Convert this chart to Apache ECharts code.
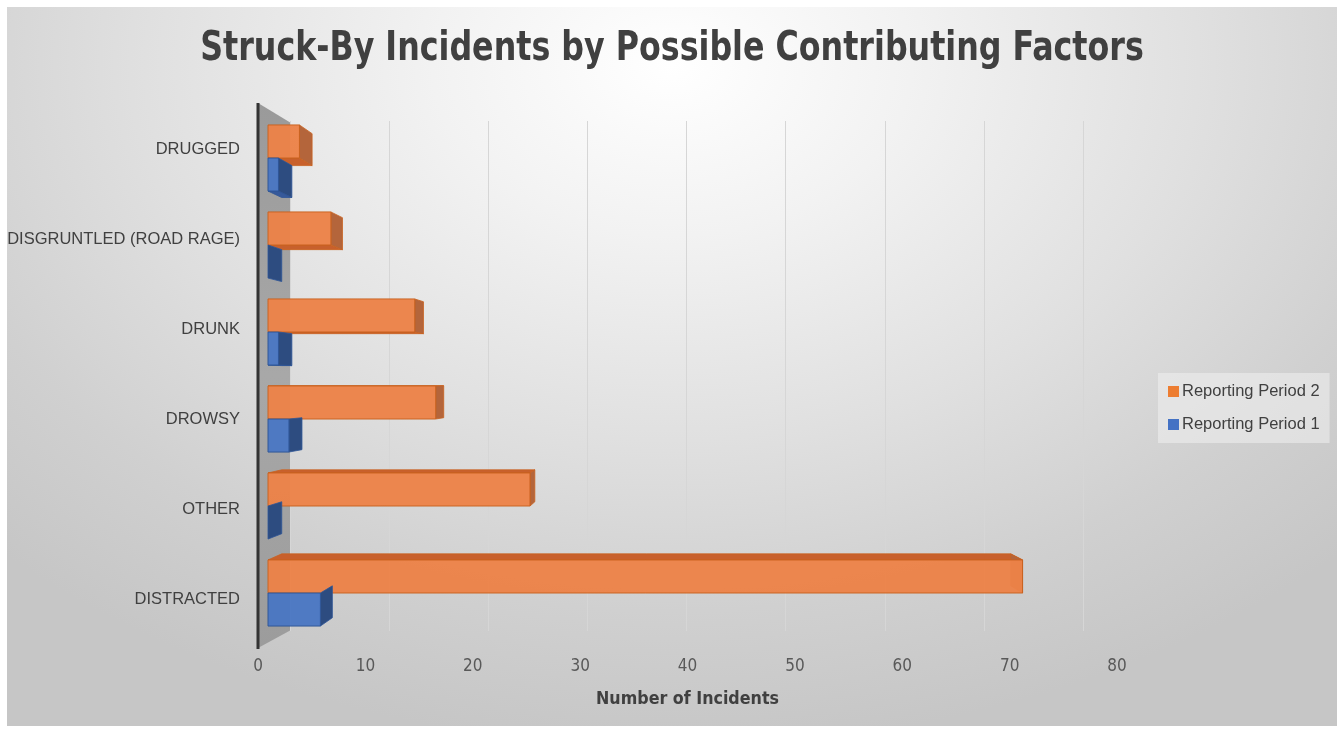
<!DOCTYPE html>
<html>
<head>
<meta charset="utf-8">
<script src="https://cdn.jsdelivr.net/npm/echarts@6/dist/echarts.min.js"></script>
<style>
html,body{margin:0;padding:0;background:#ffffff;}
#bg{position:absolute;left:7px;top:7px;width:1330px;height:719px;
background:radial-gradient(ellipse 72% 95% at 50% 8%, #ffffff 0%, #f2f2f2 25%, #e0e0e0 55%, #d0d0d0 80%, #c6c6c6 100%);}
#chart{position:absolute;left:0;top:0;width:1344px;height:733px;}
</style>
</head>
<body>
<div id="bg"></div>
<div id="chart"></div>
<script>
// ---- data ----
const categories = ['DISTRACTED', 'OTHER', 'DROWSY', 'DRUNK', 'DISGRUNTLED (ROAD RAGE)', 'DRUGGED'];
const period2 = [72, 25, 16, 14, 6, 3];
const period1 = [5, 0, 2, 1, 0, 1];
const seriesNames = ['Reporting Period 2', 'Reporting Period 1'];
const titleText = 'Struck-By Incidents by Possible Contributing Factors';
const xName = 'Number of Incidents';
const xMin = 0, xMax = 80, xStep = 10;

const narrow = '"Liberation Sans Narrow", "DejaVu Sans Condensed", "Roboto Condensed", "Liberation Sans", sans-serif';
const sans = '"Liberation Sans", Arial, "Noto Sans", sans-serif';

const palette = {
  orange: { front: '#EC8248', side: '#B4653B', top: '#C8602C', stroke: '#C9621F' },
  blue:   { front: '#4A77C3', side: '#2D4C80', top: '#36599A', stroke: '#2F5597' }
};

// upper: this series sits in the upper half of each category band;
// other: values of the partner series (faces shared with it are hidden)
function makeRender(col, upper, other) {
  return function (params, api) {
    const val = api.value(0);
    const idx = api.value(1);
    const c0 = api.coord([0, idx]);
    const c1 = api.coord([val, idx]);
    const cOther = api.coord([other[idx], idx]);
    const band = api.size([0, 1])[1];
    const h = band * 0.38;
    const x0 = c0[0], x1 = c1[0];
    const y0 = upper ? c0[1] - h : c0[1];
    const y1 = upper ? c0[1] : c0[1] + h;
    const vx = api.getWidth() * 0.5, vy = api.getHeight() * 0.52, k = 0.034;
    const bk = (p) => [p[0] + (vx - p[0]) * k, p[1] + (vy - p[1]) * k];
    const children = [];
    // horizontal face (top if below eye level, bottom otherwise)
    const showTop = y0 > vy;
    const faceY = showTop ? y0 : y1;
    const shared = (showTop && !upper) || (!showTop && upper);
    const fx0 = shared ? Math.max(x0, cOther[0]) : x0;
    if (x1 > fx0 + 0.5) {
      const A = [fx0, faceY], B = [x1, faceY];
      children.push({ type: 'polygon', shape: { points: [A, B, bk(B), bk(A)] },
        style: { fill: col.top, stroke: col.stroke, lineWidth: 0.8 } });
    }
    // right side face
    const FRT = [x1, y0], FRB = [x1, y1];
    children.push({ type: 'polygon', shape: { points: [FRT, bk(FRT), bk(FRB), FRB] },
      style: { fill: col.side, stroke: col.stroke, lineWidth: 0.8 } });
    // front face
    if (x1 - x0 > 0.5) {
      children.push({ type: 'rect', shape: { x: x0, y: y0, width: x1 - x0, height: y1 - y0 },
        style: { fill: col.front, stroke: col.stroke, lineWidth: 1, opacity: 0.96 } });
    }
    return { type: 'group', children: children };
  };
}

const chart = echarts.init(document.getElementById('chart'), null, { renderer: 'canvas' });

const option = {
  backgroundColor: 'transparent',
  animation: false,
  legend: {
    orient: 'vertical',
    left: 1158, top: 373,
    padding: [10, 10, 10, 10],
    itemGap: 16,
    itemWidth: 11, itemHeight: 11,
    icon: 'rect',
    backgroundColor: 'rgba(240,240,240,0.55)',
    data: seriesNames,
    textStyle: { fontFamily: sans, fontSize: 16.5, color: '#404040', padding: [0, 0, 0, -2] }
  },
  grid: [
    { left: 258, right: 227, top: 105, bottom: 89 },     // front plane: labels
    { left: 290, right: 261, top: 121, bottom: 102 },    // back wall: gridlines
    { left: 268, right: 237.6, top: 114.5, bottom: 96.5 } // bar plane
  ],
  xAxis: [
    {
      gridIndex: 0, type: 'value', min: xMin, max: xMax, interval: xStep,
      axisLine: { show: false }, axisTick: { show: false }, splitLine: { show: false },
      axisLabel: { fontFamily: narrow, fontSize: 17, color: '#595959', margin: 14 },
      name: xName, nameLocation: 'middle', nameGap: 46,
      nameTextStyle: { fontFamily: narrow, fontWeight: 'bold', fontSize: 17.7, color: '#404040' }
    },
    {
      gridIndex: 1, type: 'value', min: xMin, max: xMax, interval: xStep,
      axisLine: { show: false }, axisTick: { show: false }, axisLabel: { show: false },
      splitLine: { show: true, lineStyle: { color: '#d6d6d6', width: 1 } }
    },
    {
      gridIndex: 2, type: 'value', min: xMin, max: xMax, interval: xStep, show: false,
      splitLine: { show: false }
    }
  ],
  yAxis: [
    {
      gridIndex: 0, type: 'category', data: categories,
      axisLine: { show: false }, axisTick: { show: false },
      axisLabel: { fontFamily: sans, fontSize: 16.5, color: '#404040', margin: 18 }
    },
    { gridIndex: 1, type: 'category', data: categories, show: false },
    { gridIndex: 2, type: 'category', data: categories, show: false }
  ],
  graphic: [
    { type: 'text', z: 10, silent: true, x: 672, y: 49, scaleX: 0.86,
      style: { text: titleText, fontFamily: narrow, fontWeight: 'bold', fontSize: 41,
        fill: '#404040', align: 'center', verticalAlign: 'middle' } },
    { type: 'polygon', z: 0, silent: true,
      shape: { points: [[258, 103], [291, 123], [291, 630], [258, 648]] },
      style: { fill: new echarts.graphic.LinearGradient(0, 0, 0, 1, [
        { offset: 0, color: '#9a9a9a' }, { offset: 0.5, color: '#a8a8a8' }, { offset: 1, color: '#9c9c9c' }]) } },
    { type: 'line', z: 1, silent: true,
      shape: { x1: 258, y1: 103, x2: 258, y2: 649 },
      style: { stroke: '#333333', lineWidth: 3 } }
  ],
  series: [
    {
      name: seriesNames[0], type: 'custom', xAxisIndex: 2, yAxisIndex: 2,
      itemStyle: { color: '#ED7D31' }, clip: false, z: 3,
      renderItem: makeRender(palette.orange, true, period1),
      encode: { x: 0, y: 1 },
      data: period2.map((v, i) => [v, i])
    },
    {
      name: seriesNames[1], type: 'custom', xAxisIndex: 2, yAxisIndex: 2,
      itemStyle: { color: '#4472C4' }, clip: false, z: 4,
      renderItem: makeRender(palette.blue, false, period2),
      encode: { x: 0, y: 1 },
      data: period1.map((v, i) => [v, i])
    }
  ]
};
chart.setOption(option);
</script>
</body>
</html>
